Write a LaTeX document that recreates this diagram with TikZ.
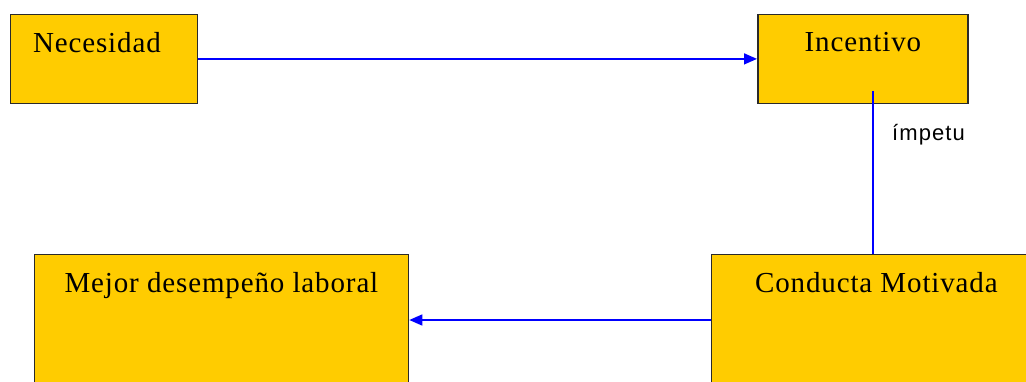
\documentclass[tikz,border=0pt]{standalone}
\usepackage{fontspec}
\setmainfont{Liberation Serif}[LetterSpace=3]
\newfontfamily\labelfont{Liberation Sans}[LetterSpace=5]
\usetikzlibrary{arrows.meta}
\definecolor{boxfill}{HTML}{FFCC00}
\definecolor{boxline}{HTML}{2A2A2A}
\definecolor{linkblue}{HTML}{0000FF}
\begin{document}
\begin{tikzpicture}[x=1pt,y=-1pt,
  box/.style={draw=boxline,line width=1.8pt,fill=boxfill,rectangle,anchor=north west,inner sep=0pt},
  boxtext/.style={anchor=north,inner sep=0pt,font=\fontsize{29}{34}\selectfont,text=black},
  link/.style={draw=linkblue,line width=1.5pt},
  tip/.style={-{Triangle[length=13pt,width=11pt]}}
]
\useasboundingbox (0,0) rectangle (1026,381);
\clip (0,0) rectangle (1026,381);
\node[box,minimum width=187pt,minimum height=89pt] (nec) at (9.5,13.5) {};
\node[box,minimum width=210pt,minimum height=89pt] (inc) at (757,13.5) {};
\node[box,minimum width=374pt,minimum height=140pt] (mej) at (33.5,253.5) {};
\node[box,minimum width=330pt,minimum height=140pt] (con) at (710.5,253.5) {};
\node[boxtext] (tnec) at ([xshift=-7pt,yshift=-19pt]nec.north) {Necesidad};
\node[boxtext] (tinc) at ([yshift=-19pt]inc.north) {Incentivo};
\node[boxtext] (tmej) at ([yshift=-19pt]mej.north) {Mejor desempeño laboral};
\node[boxtext] (tcon) at ([yshift=-19pt]con.north) {Conducta Motivada};
\coordinate (imp1) at (873,91);
\draw[link,tip] (nec.east) -- (nec.east -| inc.west);
\draw[link] (imp1) -- (imp1 |- con.north);
\coordinate (c1) at (710.5,320);
\draw[link,tip] (c1) -- (c1 -| mej.east);
\node[anchor=west,inner sep=0pt,font=\labelfont\fontsize{22}{26}\selectfont] (imp) at (892,135) {ímpetu};
\end{tikzpicture}
\end{document}
